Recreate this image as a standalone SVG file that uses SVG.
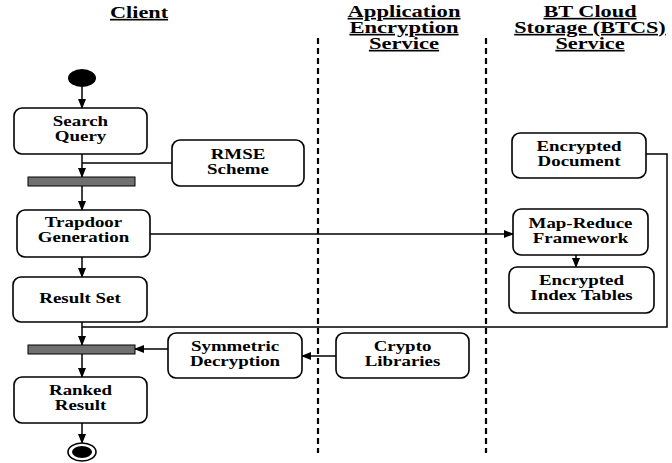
<svg xmlns="http://www.w3.org/2000/svg" width="672" height="463" viewBox="0 0 672 463" font-family="Liberation Serif, Times New Roman, serif" font-weight="bold">
<style>
.box{fill:#fff;stroke:#000;stroke-width:1.6}
.bar{fill:#707070;stroke:#000;stroke-width:1}
.ln{fill:none;stroke:#000;stroke-width:1.5}
.dash{stroke:#000;stroke-width:2.2;stroke-dasharray:6,4}
.t{font-family:'Liberation Serif','Times New Roman',serif;font-weight:bold;fill:#000;text-anchor:middle;font-size:14px}
.h{font-family:'Liberation Serif','Times New Roman',serif;font-weight:bold;fill:#000;text-anchor:middle;font-size:16.5px;text-decoration:underline}
</style>
<defs>
<marker id="ah" markerWidth="10" markerHeight="10" refX="9" refY="5" orient="auto" markerUnits="userSpaceOnUse">
<path d="M0,1 L10,5 L0,9 Z" fill="#000"/>
</marker>
</defs>
<rect width="672" height="463" fill="#fff"/>
<g id="headers">
<text class="h" transform="translate(139,18) scale(1.35,1)">Client</text>
<text class="h" transform="translate(404,17) scale(1.37,1)">Application</text>
<text class="h" transform="translate(404,33) scale(1.37,1)">Encryption</text>
<text class="h" transform="translate(404,49) scale(1.37,1)">Service</text>
<text class="h" transform="translate(590,17) scale(1.35,1)">BT Cloud</text>
<text class="h" transform="translate(590,33) scale(1.35,1)">Storage (BTCS)</text>
<text class="h" transform="translate(590,49) scale(1.35,1)">Service</text>
</g>
<g id="lanes">
<line class="dash" x1="318" y1="38" x2="318" y2="453"/>
<line class="dash" x1="486" y1="38" x2="486" y2="453"/>
</g>
<g id="connectors">
<line class="ln" x1="82" y1="87" x2="82" y2="108" marker-end="url(#ah)"/>
<line class="ln" x1="82" y1="154" x2="82" y2="177" marker-end="url(#ah)"/>
<line class="ln" x1="172" y1="163" x2="82" y2="163"/>
<line class="ln" x1="82" y1="186" x2="82" y2="210" marker-end="url(#ah)"/>
<line class="ln" x1="150" y1="234" x2="513" y2="234" marker-end="url(#ah)"/>
<line class="ln" x1="82" y1="257" x2="82" y2="277" marker-end="url(#ah)"/>
<line class="ln" x1="82" y1="322" x2="82" y2="345" marker-end="url(#ah)"/>
<polyline class="ln" points="646,154 667,154 667,327 82,327"/>
<line class="ln" x1="82" y1="354" x2="82" y2="377" marker-end="url(#ah)"/>
<line class="ln" x1="168" y1="349" x2="135" y2="349" marker-end="url(#ah)"/>
<line class="ln" x1="336" y1="356" x2="302" y2="356" marker-end="url(#ah)"/>
<line class="ln" x1="82" y1="423" x2="82" y2="443" marker-end="url(#ah)"/>
<line class="ln" x1="576" y1="255" x2="576" y2="267" marker-end="url(#ah)"/>
</g>
<g id="start"><ellipse cx="82" cy="78" rx="14" ry="9" fill="#000"/></g>
<g id="search-query"><rect class="box" x="14" y="108" width="133" height="46" rx="8"/>
<text class="t" transform="translate(80.5,126) scale(1.35,1)">Search</text>
<text class="t" transform="translate(80.5,141) scale(1.35,1)">Query</text></g>
<g id="rmse"><rect class="box" x="172" y="140" width="132" height="46" rx="8"/>
<text class="t" transform="translate(238,159) scale(1.35,1)">RMSE</text>
<text class="t" transform="translate(238,174) scale(1.35,1)">Scheme</text></g>
<g id="bar1"><rect class="bar" x="28" y="177" width="107" height="9"/></g>
<g id="trapdoor"><rect class="box" x="17" y="210" width="133" height="47" rx="8"/>
<text class="t" transform="translate(83.5,227) scale(1.35,1)">Trapdoor</text>
<text class="t" transform="translate(83.5,242) scale(1.35,1)">Generation</text></g>
<g id="result-set"><rect class="box" x="13" y="277" width="134" height="45" rx="8"/>
<text class="t" transform="translate(80,303) scale(1.35,1)">Result Set</text></g>
<g id="bar2"><rect class="bar" x="28" y="345" width="107" height="9"/></g>
<g id="symmetric"><rect class="box" x="168" y="333" width="134" height="45" rx="8"/>
<text class="t" transform="translate(235,351) scale(1.35,1)">Symmetric</text>
<text class="t" transform="translate(235,366) scale(1.35,1)">Decryption</text></g>
<g id="crypto"><rect class="box" x="336" y="333" width="133" height="45" rx="8"/>
<text class="t" transform="translate(402.5,351) scale(1.35,1)">Crypto</text>
<text class="t" transform="translate(402.5,366) scale(1.35,1)">Libraries</text></g>
<g id="ranked"><rect class="box" x="14" y="377" width="133" height="46" rx="8"/>
<text class="t" transform="translate(80.5,395) scale(1.35,1)">Ranked</text>
<text class="t" transform="translate(80.5,410) scale(1.35,1)">Result</text></g>
<g id="end"><ellipse cx="82" cy="452" rx="14" ry="9" fill="#fff" stroke="#000" stroke-width="1.6"/><ellipse cx="82" cy="452" rx="10" ry="6" fill="#000"/></g>
<g id="enc-doc"><rect class="box" x="512" y="133" width="134" height="45" rx="8"/>
<text class="t" transform="translate(579,151) scale(1.35,1)">Encrypted</text>
<text class="t" transform="translate(579,166) scale(1.35,1)">Document</text></g>
<g id="map-reduce"><rect class="box" x="513" y="209" width="135" height="46" rx="8"/>
<text class="t" transform="translate(580.5,228) scale(1.35,1)">Map-Reduce</text>
<text class="t" transform="translate(580.5,243) scale(1.35,1)">Framework</text></g>
<g id="index-tables"><rect class="box" x="509" y="267" width="145" height="46" rx="8"/>
<text class="t" transform="translate(581.5,285) scale(1.35,1)">Encrypted</text>
<text class="t" transform="translate(581.5,300) scale(1.35,1)">Index Tables</text></g>
</svg>
